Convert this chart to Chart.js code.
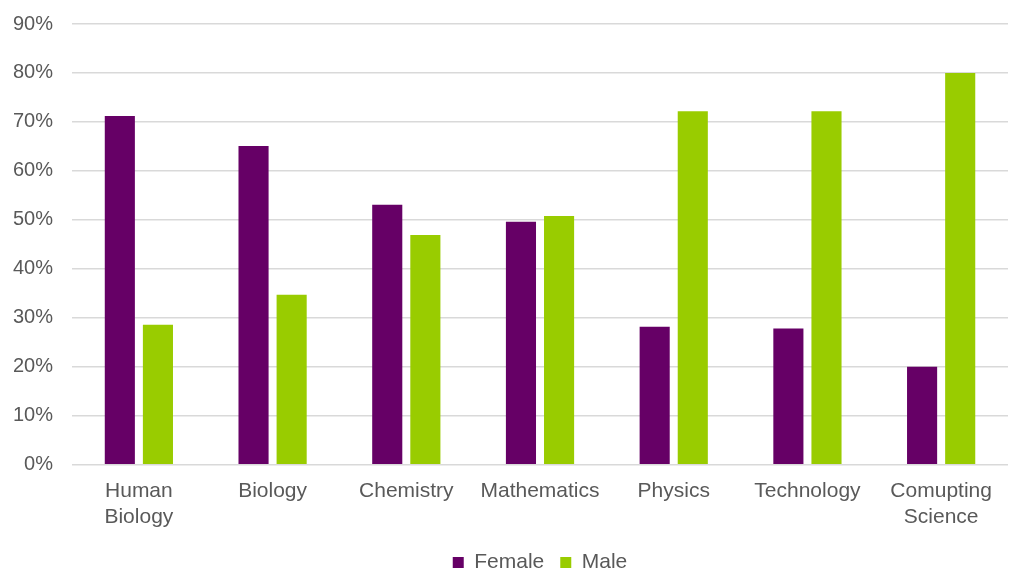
<!DOCTYPE html>
<html>
<head>
<meta charset="utf-8">
<script src="https://cdn.jsdelivr.net/npm/chart.js@4"></script>
<style>
  html, body { margin: 0; padding: 0; background: #fff; }
  #wrap { width: 1011px; height: 571px; }
</style>
</head>
<body>
<div id="wrap"><canvas id="chart-subjects"></canvas></div>
<script>
const subjects = [['Human', 'Biology'], 'Biology', 'Chemistry', 'Mathematics', 'Physics', 'Technology', ['Comupting', 'Science']];
const female = [71.2, 65.1, 53.1, 49.6, 28.2, 27.8, 20.0];
const male = [28.6, 34.7, 46.9, 50.8, 72.2, 72.2, 80.0];
const yTicks = [0, 10, 20, 30, 40, 50, 60, 70, 80, 90];

Chart.defaults.font.family = '"Liberation Sans", Arial, sans-serif';
Chart.defaults.font.size = 20;
Chart.defaults.color = '#595959';

new Chart(document.getElementById('chart-subjects'), {
  type: 'bar',
  data: {
    labels: subjects,
    datasets: [
      { label: 'Female', data: female, backgroundColor: '#660066' },
      { label: 'Male', data: male, backgroundColor: '#99cc00' }
    ]
  },
  options: {
    responsive: true,
    maintainAspectRatio: false,
    animation: false,
    layout: { padding: { top: 0, right: 3, left: -6, bottom: -12 } },
    datasets: { bar: { categoryPercentage: 0.57, barPercentage: 0.79 } },
    plugins: {
      tooltip: { enabled: false },
      legend: {
        position: 'bottom',
        fullSize: false,
        labels: { boxWidth: 11, boxHeight: 11, padding: 16, color: '#595959', font: { size: 21 } }
      }
    },
    scales: {
      x: {
        grid: { display: false },
        border: { display: false },
        ticks: { maxRotation: 0, autoSkip: false, padding: 6, font: { size: 21, lineHeight: 1.22 } }
      },
      y: {
        min: 0,
        max: 90,
        afterBuildTicks: axis => { axis.ticks = yTicks.map(v => ({ value: v })); },
        // tick padding would otherwise push the top gridline down
        afterFit: axis => { axis.paddingTop = 24; },
        grid: { color: '#d9d9d9', lineWidth: 1.5, drawTicks: false },
        border: { display: false },
        ticks: { padding: 19, callback: v => v + '%' }
      }
    }
  }
});
</script>
</body>
</html>
